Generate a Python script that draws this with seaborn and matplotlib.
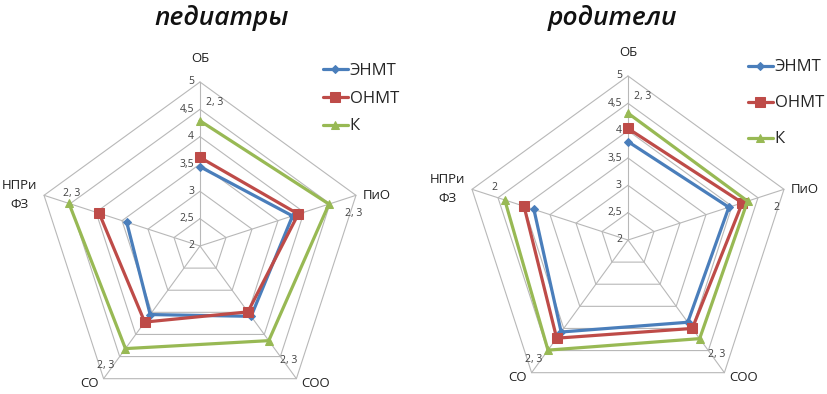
import numpy as np
import pandas as pd
import seaborn as sns
import matplotlib.pyplot as plt

# axes of the radar, clockwise from the top
categories = ["ОБ", "ПиО", "СОО", "СО", "НПРи\nФЗ"]
series_names = ["ЭНМТ", "ОНМТ", "К"]

# педиатры
ped_enmt = [3.45, 3.78, 3.59, 3.55, 3.41]
ped_onmt = [3.62, 3.89, 3.49, 3.72, 3.94]
ped_k = [4.29, 4.48, 4.14, 4.32, 4.52]
ped_sig = ["2, 3", "2, 3", "2, 3", "2, 3", "2, 3"]

# родители
par_enmt = [3.80, 3.94, 3.86, 4.08, 3.81]
par_onmt = [4.04, 4.20, 4.00, 4.22, 4.00]
par_k = [4.32, 4.30, 4.23, 4.49, 4.37]
par_sig = ["2, 3", "2", "2, 3", "2, 3", "2"]

ticks = [2, 2.5, 3, 3.5, 4, 4.5, 5]
tick_labels = ["2", "2,5", "3", "3,5", "4", "4,5", "5"]

colors = ["#4a7ebb", "#be4b48", "#98b954"]
markers = ["D", "s", "^"]
msizes = [4, 6.5, 6]

sns.set_style("white")
plt.rcParams["font.family"] = ["Open Sans", "DejaVu Sans"]

angles = np.deg2rad(90 - 72 * np.arange(len(categories)))
rmin = ticks[0]


def to_xy(values):
    r = np.asarray(values) - rmin
    x = r * np.cos(angles)
    y = r * np.sin(angles)
    # close the polygon
    return np.append(x, x[0]), np.append(y, y[0])


def radar(ax, data, sig, leg_anchor, leg_spacing):
    grid_c = "#b8b8b8"
    # pentagon grid
    for t in ticks[1:]:
        gx, gy = to_xy([t] * len(categories))
        ax.plot(gx, gy, color=grid_c, lw=0.8, zorder=1)
    # spokes
    rmax = ticks[-1] - rmin
    for a in angles:
        ax.plot([0, rmax * np.cos(a)], [0, rmax * np.sin(a)], color=grid_c, lw=0.8, zorder=1)

    # tick labels along top spoke
    for t, lab in zip(ticks, tick_labels):
        ax.annotate(lab, (0, t - rmin), xytext=(-6, 0), textcoords="offset pixels",
                    ha="right", va="center", fontsize=7.5, color="#404040")

    # category labels and significance marks
    cat_off = [(0, 17, "center", "bottom"), (7, 0, "left", "center"),
               (5, -5, "left", "center"), (-5, -5, "right", "center"),
               (-7, 0, "right", "center")]
    sig_off = [(6, -21), (-11, -18), (-16, 18), (-7, 13), (19, 2)]
    for a, cat, (dx, dy, ha, va), s, (sx, sy) in zip(angles, categories, cat_off, sig, sig_off):
        end = (rmax * np.cos(a), rmax * np.sin(a))
        ax.annotate(cat, end, xytext=(dx, dy), textcoords="offset pixels", ha=ha, va=va,
                    multialignment="center", fontsize=9.5, color="#202020", linespacing=1.6)
        ax.annotate(s, end, xytext=(sx, sy), textcoords="offset pixels",
                    ha="left", va="center", fontsize=7.5, color="#404040")

    # series
    for name, vals, c, m, ms in zip(series_names, data, colors, markers, msizes):
        x, y = to_xy(vals)
        df = pd.DataFrame({"x": x, "y": y})
        sns.lineplot(data=df, x="x", y="y", sort=False, ax=ax, color=c, lw=2.3,
                     marker=m, markersize=ms, markeredgecolor=c, label=name, zorder=3)

    ax.legend(loc="upper left", bbox_to_anchor=leg_anchor, frameon=False, fontsize=12,
              handlelength=1.5, handletextpad=0.1, labelspacing=leg_spacing, borderpad=0,
              borderaxespad=0)
    ax.set_axis_off()


fig = plt.figure(figsize=(8.27, 3.94), dpi=100)
ppu = 164 / 3.0  # pixels per value unit

# left chart: centre at (200, 246) px
ax1 = fig.add_axes([0, 0, 415 / 827, 354 / 394])
ax1.set_xlim(-200 / ppu, 215 / ppu)
ax1.set_ylim(-148 / ppu, 206 / ppu)
radar(ax1, [ped_enmt, ped_onmt, ped_k], ped_sig, (0.778, 0.935), 0.7)

# right chart: centre at (628, 240) px
ax2 = fig.add_axes([415 / 827, 0, 412 / 827, 354 / 394])
ax2.set_xlim(-213 / ppu, 199 / ppu)
ax2.set_ylim(-154 / ppu, 200 / ppu)
radar(ax2, [par_enmt, par_onmt, par_k], par_sig, (0.808, 0.945), 1.2)

fig.text(222 / 827, 1 - 25 / 394, "педиатры", ha="center", va="baseline",
         fontsize=19, fontstyle="italic", fontweight="semibold", color="#111111")
fig.text(612 / 827, 1 - 25 / 394, "родители", ha="center", va="baseline",
         fontsize=19, fontstyle="italic", fontweight="semibold", color="#111111")

fig.savefig("out.png", dpi=100, facecolor="white")
